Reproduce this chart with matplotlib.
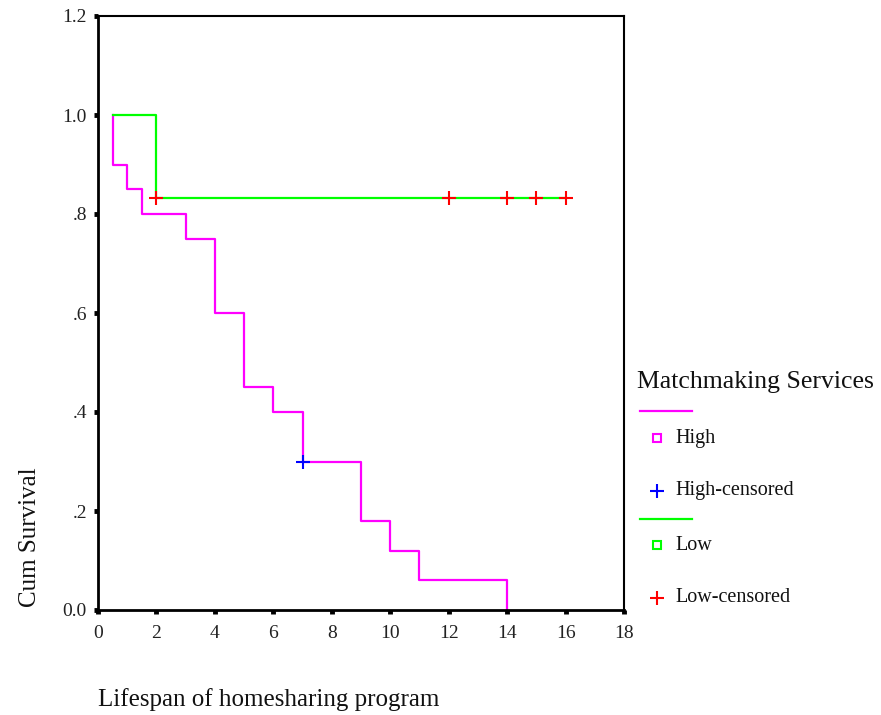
import matplotlib
matplotlib.use("Agg")
import matplotlib.pyplot as plt
from matplotlib.lines import Line2D

# Data: Kaplan-Meier step curves
high_t = [0.5, 0.5, 1, 1.5, 3, 4, 5, 6, 7, 9, 10, 11, 14]
high_s = [1.0, 0.90, 0.85, 0.80, 0.75, 0.60, 0.45, 0.40, 0.30, 0.18, 0.12, 0.06, 0.0]
high_cens_t = [7]
high_cens_s = [0.30]

low_t = [0.5, 2, 16]
low_s = [1.0, 0.8333, 0.8333]
low_cens_t = [2, 12, 14, 15, 16]
low_cens_s = [0.8333, 0.8333, 0.8333, 0.8333, 0.8333]

xticks = [0, 2, 4, 6, 8, 10, 12, 14, 16, 18]
yticks = [0.0, 0.2, 0.4, 0.6, 0.8, 1.0, 1.2]
ytick_labels = ["0.0", ".2", ".4", ".6", ".8", "1.0", "1.2"]

MAG = "#FF00FF"
GRN = "#00FF00"
BLU = "#0000FF"
RED = "#FF0000"

plt.rcParams['font.family'] = ['Liberation Serif', 'DejaVu Serif']

W, H = 881, 715
fig = plt.figure(figsize=(W / 100, H / 100), dpi=100)
ax = fig.add_axes([98 / W, 1 - 610 / H, (624 - 98) / W, (610 - 16) / H])

ax.step(high_t, high_s, where='post', color=MAG, lw=1.6)
ax.plot(high_cens_t, high_cens_s, '+', color=BLU, ms=10, mew=1.5)
ax.step(low_t, low_s, where='post', color=GRN, lw=1.6)
ax.plot(low_cens_t, low_cens_s, '+', color=RED, ms=10, mew=1.5)

ax.set_xlim(0, 18)
ax.set_ylim(0, 1.2)
ax.set_xticks(xticks)
ax.set_xticklabels([str(v) for v in xticks])
ax.set_yticks(yticks)
ax.set_yticklabels(ytick_labels)
ax.tick_params(direction='out', length=3, width=3.5, labelsize=14, colors='black',
               labelcolor='#222222')
ax.tick_params(axis='x', pad=8)
ax.tick_params(axis='y', pad=5)
for s in ['left', 'bottom']:
    ax.spines[s].set_linewidth(2)
for s in ['top', 'right']:
    ax.spines[s].set_linewidth(1.5)

fig.text(98 / W, 1 - 700 / H, "Lifespan of homesharing program", fontsize=18,
         ha='left', va='center', color='#111111')
fig.text(30 / W, 1 - 537 / H, "Cum Survival", fontsize=18, rotation=90,
         ha='center', va='center', color='#111111')

# Legend drawn manually
def fy(p):
    return 1 - p / H

fig.text(637 / W, fy(382), "Matchmaking Services", fontsize=18.5, ha='left', va='center',
         color='#111111')
fig.add_artist(Line2D([640 / W, 692 / W], [fy(411), fy(411)], color=MAG, lw=1.6))
fig.add_artist(Line2D([657 / W], [fy(438)], marker='s', ms=6, mfc='none', mec=MAG, mew=1.5,
                      ls='none'))
fig.text(675 / W, fy(438), "High", fontsize=14.5, ha='left', va='center', color='#111111')
fig.add_artist(Line2D([657 / W], [fy(491)], marker='+', ms=10, mec=BLU, mew=1.5, ls='none'))
fig.text(675 / W, fy(491), "High-censored", fontsize=14.5, ha='left', va='center', color='#111111')
fig.add_artist(Line2D([640 / W, 692 / W], [fy(519), fy(519)], color=GRN, lw=1.6))
fig.add_artist(Line2D([657 / W], [fy(545)], marker='s', ms=6, mfc='none', mec=GRN, mew=1.5,
                      ls='none'))
fig.text(675 / W, fy(545), "Low", fontsize=14.5, ha='left', va='center', color='#111111')
fig.add_artist(Line2D([657 / W], [fy(598)], marker='+', ms=10, mec=RED, mew=1.5, ls='none'))
fig.text(675 / W, fy(598), "Low-censored", fontsize=14.5, ha='left', va='center', color='#111111')

fig.savefig("out.png", dpi=100, facecolor='white')
